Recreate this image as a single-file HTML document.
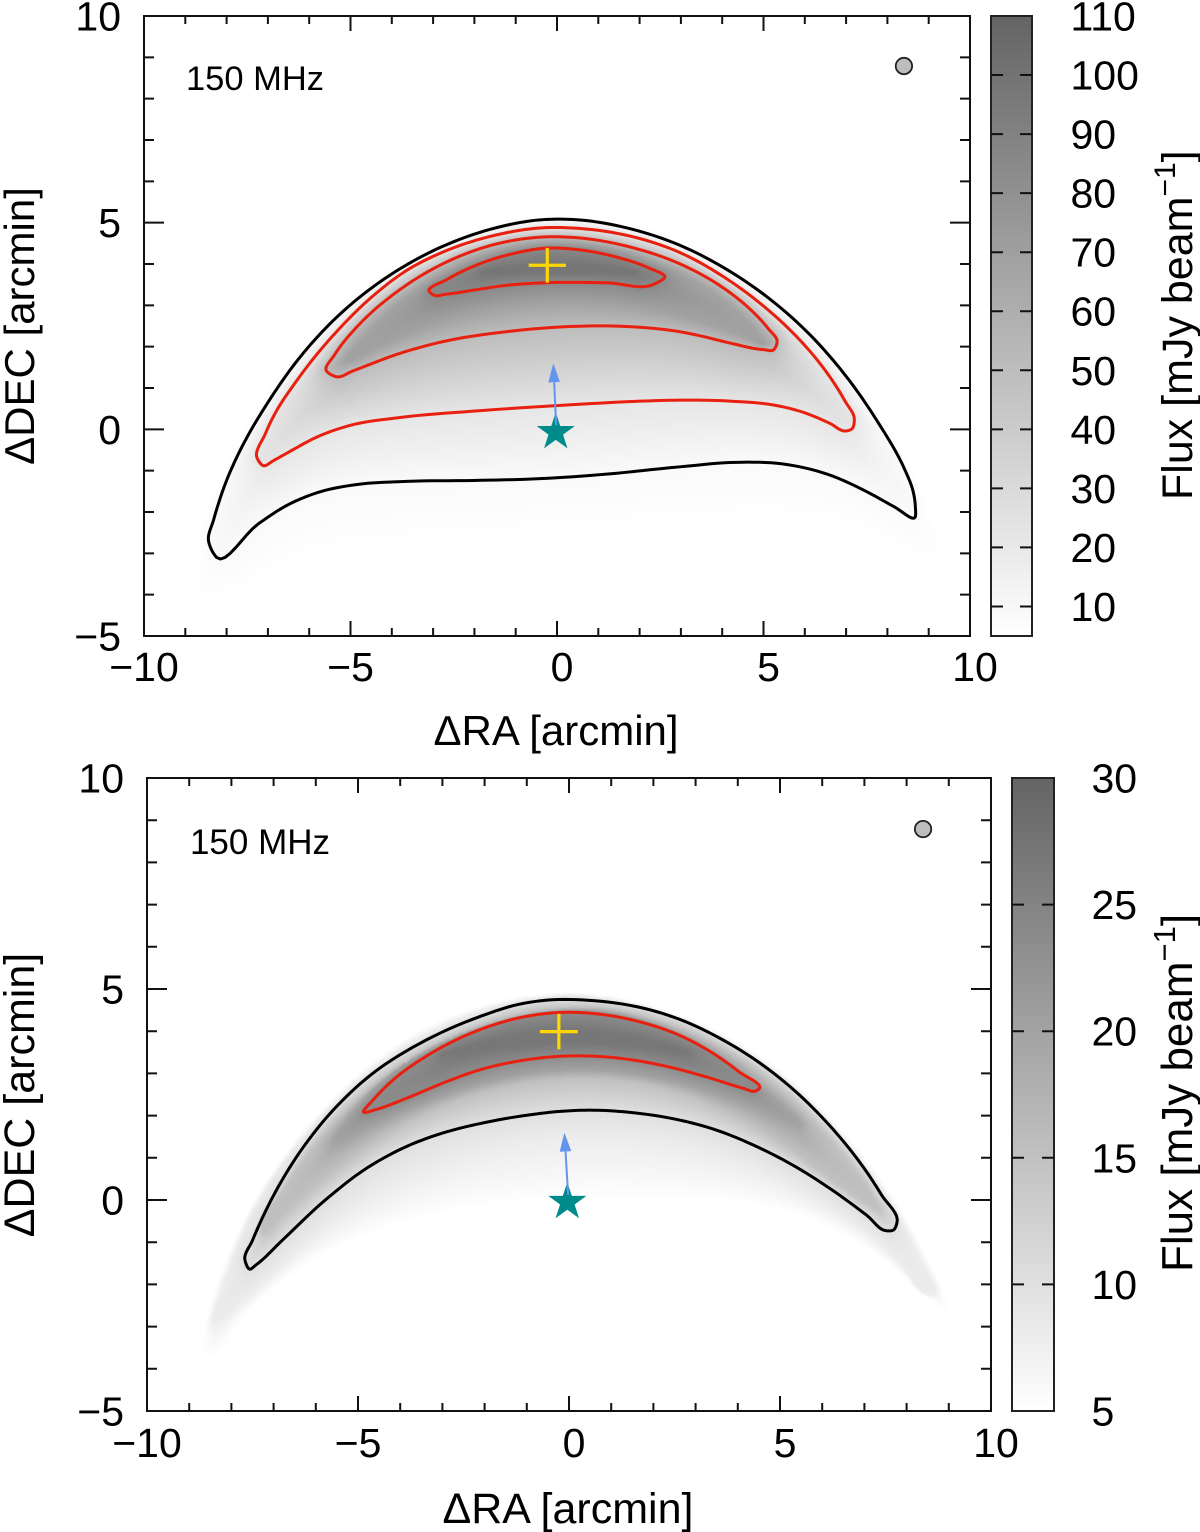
<!DOCTYPE html>
<html lang="en">
<head>
<meta charset="utf-8">
<title>150 MHz flux maps</title>
<style>
html,body{margin:0;padding:0;background:#fff;}
#stage{position:relative;width:1200px;height:1532px;overflow:hidden;background:#fff;}
#heat,#chart{position:absolute;left:0;top:0;}
text{font-family:"Liberation Sans",Arial,sans-serif;fill:#000;}
</style>
</head>
<body>
<div id="stage">
<canvas id="heat" width="1200" height="1532"></canvas>
<svg id="chart" xmlns="http://www.w3.org/2000/svg" width="1200" height="1532" viewBox="0 0 1200 1532">
  <defs>
    <clipPath id="clip-top"><rect x="144" y="16" width="826" height="620"/></clipPath>
    <clipPath id="clip-bottom"><rect x="147" y="778" width="844" height="633"/></clipPath>
  </defs>
  <g id="panel-top"></g>
  <g id="panel-bottom"></g>

  <text x="255" y="90" font-size="34.5" text-anchor="middle">150 MHz</text>
  <text x="556" y="745" font-size="42" text-anchor="middle">ΔRA [arcmin]</text>
  <text transform="translate(34,326) rotate(-90)" font-size="42" text-anchor="middle">ΔDEC [arcmin]</text>
  <text transform="translate(1192,500) rotate(-90)" font-size="43">Flux [mJy beam<tspan font-size="30" dy="-17">−1</tspan><tspan dy="17">]</tspan></text>

  <text x="260" y="854" font-size="35" text-anchor="middle">150 MHz</text>
  <text x="568" y="1523" font-size="43" text-anchor="middle">ΔRA [arcmin]</text>
  <text transform="translate(34,1095) rotate(-90)" font-size="43" text-anchor="middle">ΔDEC [arcmin]</text>
  <text transform="translate(1192,1272) rotate(-90)" font-size="44">Flux [mJy beam<tspan font-size="31" dy="-17">−1</tspan><tspan dy="17">]</tspan></text>
</svg>
</div>
<script>
// ---------- Shared axis data ----------
const xTickValues = [-10, -5, 0, 5, 10];
const xTickLabels = ["−10", "−5", "0", "5", "10"];
const yTickValues = [-5, 0, 5, 10];
const yTickLabels = ["−5", "0", "5", "10"];
const xRange = [-10, 10];
const yRange = [-5, 10];

// ---------- Top panel data ----------
const topBlackContour = [[-8.24,-3.10],[-8.44,-2.68],[-8.36,-2.19],[-8.00,-1.15],[-7.76,-0.62],[-7.03,0.75],[-6.22,1.88],[-5.25,2.93],[-4.12,3.81],[-2.83,4.50],[-1.62,4.94],[-0.41,5.14],[0.39,5.14],[1.77,4.97],[2.98,4.56],[4.19,3.90],[5.24,3.17],[6.21,2.32],[7.01,1.35],[7.82,0.23],[8.47,-0.98],[8.67,-1.47],[8.71,-1.87],[8.67,-2.13],[8.14,-1.91],[7.50,-1.47],[6.61,-0.97],[5.47,-0.73],[4.35,-0.73],[2.98,-0.91],[1.20,-1.11],[-0.41,-1.24],[-2.03,-1.25],[-3.64,-1.23],[-4.85,-1.27],[-5.74,-1.43],[-6.54,-1.75],[-7.27,-2.24]];
const topRedOuter = [[-7.11,-0.88],[-7.26,-0.70],[-7.07,-0.10],[-6.95,0.27],[-6.30,1.31],[-5.42,2.36],[-4.45,3.33],[-3.64,3.93],[-2.83,4.34],[-1.46,4.81],[-0.41,4.94],[0.63,4.94],[2.01,4.70],[2.98,4.38],[4.03,3.77],[5.00,3.05],[5.80,2.32],[6.53,1.51],[7.01,0.71],[7.20,0.23],[7.14,0.01],[6.99,-0.04],[6.61,0.15],[5.96,0.47],[5.32,0.65],[4.19,0.71],[2.98,0.73],[2.01,0.69],[0.39,0.61],[-2.03,0.45],[-3.80,0.32],[-5.01,0.18],[-5.74,-0.06],[-6.59,-0.60],[-6.85,-0.77]];
const topRedMiddle = [[-5.33,1.27],[-5.59,1.43],[-5.46,1.84],[-4.85,2.60],[-3.96,3.37],[-2.83,4.10],[-1.62,4.58],[-0.41,4.74],[0.63,4.70],[1.84,4.46],[2.98,4.11],[3.95,3.57],[4.67,2.97],[5.16,2.48],[5.33,2.12],[5.24,1.92],[5.00,1.86],[4.19,2.08],[3.46,2.28],[2.98,2.38],[2.17,2.50],[1.20,2.52],[0.31,2.51],[-1.22,2.44],[-2.83,2.16],[-3.80,1.92],[-4.93,1.39]];
const topRedInner = [[-3.09,3.33],[-2.67,3.68],[-2.03,4.02],[-0.98,4.34],[-0.25,4.42],[0.23,4.42],[1.53,4.22],[2.25,3.98],[2.61,3.68],[2.37,3.52],[1.20,3.57],[-0.41,3.57],[-1.22,3.53],[-2.03,3.37],[-2.67,3.23],[-2.99,3.25]];
const topFluxEdge = [[-8.93,-4.42],[-9.06,-3.64],[-8.64,-2.19],[-8.11,-0.98],[-7.38,0.47],[-6.51,1.87],[-5.35,3.08],[-4.09,3.98],[-2.88,4.63],[-1.62,5.06],[-0.41,5.26],[0.39,5.26],[1.82,5.09],[3.08,4.65],[4.55,3.90],[5.76,2.93],[6.97,1.68],[7.82,0.54],[8.43,-0.55],[8.86,-1.47],[9.23,-2.43],[9.39,-2.97],[9.08,-3.31],[8.31,-2.80],[7.34,-2.32],[5.88,-1.95],[3.46,-2.19],[1.04,-2.56],[-1.38,-2.68],[-3.80,-2.80],[-5.50,-2.92],[-6.71,-3.40],[-7.68,-3.89],[-8.52,-4.37]];
const topFluxRidge = [[-5.13,1.63],[-4.53,2.52],[-3.68,3.32],[-2.47,4.05],[-1.38,4.46],[-0.29,4.58],[0.80,4.58],[2.01,4.29],[3.22,3.78],[4.31,3.01],[4.96,2.35],[5.04,2.04],[4.55,2.28],[3.46,2.69],[2.25,3.01],[0.80,3.13],[-0.65,3.13],[-1.86,2.94],[-3.08,2.57],[-4.04,2.16]];
const topFluxPeak = [[-1.8,3.8],[-0.5,4.1],[1.0,4.05],[1.9,3.8],[0.5,3.85],[-0.8,3.8]];
const topFluxLevels = [5, 8.5, 22, 50, 68, 85, 98];
const topColorbarTicks = [10,20,30,40,50,60,70,80,90,100];
const topColorbarLabels = ["10","20","30","40","50","60","70","80","90","100","110"];
const topColorbarLabelValues = [10,20,30,40,50,60,70,80,90,100,110];
const topColorRange = [5, 110];
const topBeam = [8.40, 8.79];
const topStar = [-0.03, -0.07];
const topPlus = [-0.235, 3.97];
const topArrowTail = [-0.02, 0.10];
const topArrowTip = [-0.09, 1.60];

// ---------- Bottom panel data ----------
const bottomBlackContour = [[-7.56,-1.64],[-7.68,-1.42],[-7.52,-0.95],[-7.09,0.08],[-6.45,1.18],[-5.58,2.29],[-4.64,3.12],[-3.61,3.79],[-2.11,4.41],[-1.20,4.68],[-0.53,4.80],[0.58,4.80],[1.76,4.62],[2.63,4.34],[3.66,3.87],[4.61,3.24],[5.41,2.61],[6.19,1.82],[6.90,0.95],[7.45,0.16],[7.77,-0.55],[7.69,-0.71],[7.53,-0.73],[7.06,-0.36],[6.19,0.32],[5.32,0.87],[4.37,1.34],[3.42,1.74],[2.63,1.94],[1.37,2.13],[0.58,2.16],[-0.21,2.12],[-0.92,2.05],[-2.11,1.83],[-2.90,1.66],[-3.85,1.34],[-4.79,0.87],[-5.82,0.08],[-6.77,-0.95],[-7.40,-1.58]];
const bottomRedContour = [[-4.87,2.08],[-4.63,2.41],[-4.24,2.88],[-3.37,3.55],[-2.11,4.11],[-1.16,4.42],[-0.14,4.49],[0.58,4.48],[1.76,4.27],[2.63,3.99],[3.42,3.51],[4.05,3.08],[4.50,2.63],[4.41,2.58],[4.13,2.61],[3.42,2.88],[2.63,3.14],[1.37,3.40],[0.58,3.44],[-0.21,3.41],[-0.53,3.40],[-1.48,3.28],[-2.11,3.12],[-2.90,2.84],[-3.85,2.41],[-4.52,2.09]];
const bottomFluxEdge = [[-8.67,-3.72],[-8.74,-3.15],[-8.44,-1.90],[-7.73,-0.31],[-6.85,1.02],[-5.90,2.20],[-4.79,3.32],[-3.70,4.03],[-2.51,4.57],[-1.33,4.86],[-0.14,4.93],[0.57,4.93],[1.75,4.74],[3.10,4.31],[4.53,3.55],[5.55,2.77],[6.59,1.59],[7.54,0.40],[8.01,-0.47],[8.48,-1.26],[8.96,-2.30],[9.03,-2.68],[8.72,-2.54],[8.01,-1.73],[6.90,-0.95],[5.71,-0.31],[4.53,0.07],[2.16,0.07],[-1.33,0.00],[-2.89,-0.24],[-4.48,-0.55],[-6.07,-1.26],[-7.01,-1.97],[-7.87,-2.91],[-8.51,-3.72]];
const bottomFluxShoulder = [[-8.44,-2.96],[-8.22,-2.01],[-7.84,-1.07],[-7.63,-0.31],[-7.04,0.66],[-6.09,1.85],[-4.95,3.03],[-3.77,3.84],[-2.35,4.50],[-1.16,4.81],[-0.14,4.88],[0.57,4.88],[1.75,4.69],[3.10,4.24],[4.53,3.41],[5.47,2.65],[6.49,1.54],[7.49,0.28],[7.96,-0.59],[8.36,-1.47],[8.67,-2.25],[8.44,-2.25],[7.96,-1.47],[7.37,-0.90],[6.18,-0.12],[5.00,0.59],[3.58,1.18],[2.16,1.49],[0.50,1.61],[-1.16,1.49],[-2.82,1.07],[-4.24,0.47],[-5.43,-0.28],[-6.37,-1.07],[-7.20,-1.90],[-7.91,-2.61]];
const bottomFluxRidge = [[-7.32,-0.64],[-6.85,0.17],[-6.07,1.35],[-5.26,2.35],[-3.70,3.65],[-2.11,4.31],[-0.14,4.67],[0.73,4.64],[2.16,4.34],[3.34,3.86],[4.53,3.15],[5.47,2.30],[6.49,1.18],[7.30,0.07],[7.37,-0.24],[6.90,-0.07],[6.11,0.55],[5.17,1.35],[3.98,2.06],[2.56,2.77],[0.97,2.96],[-0.52,2.96],[-2.11,2.68],[-3.70,2.06],[-4.88,1.26],[-5.90,0.47],[-6.85,-0.40],[-7.25,-0.78]];
const bottomFluxCore = [[-5.59,1.35],[-5.19,2.13],[-4.67,2.73],[-3.53,3.67],[-2.11,4.27],[-0.14,4.60],[0.73,4.57],[2.16,4.27],[3.34,3.74],[4.57,2.80],[5.47,1.78],[5.00,1.90],[4.05,2.37],[2.63,2.89],[0.97,3.18],[-0.52,3.18],[-2.11,2.89],[-3.53,2.30],[-4.72,1.73]];
const bottomFluxPeak = [[-3.0,3.45],[-1.5,4.0],[0,4.15],[1.5,4.0],[2.8,3.5],[1.5,3.75],[0,3.8],[-1.5,3.7]];
const bottomFluxLevels = [5, 8, 10, 15, 20, 23.5, 27];
const bottomColorbarTicks = [10,15,20,25];
const bottomColorbarLabels = ["5","10","15","20","25","30"];
const bottomColorbarLabelValues = [5,10,15,20,25,30];
const bottomColorRange = [5, 30];
const bottomBeam = [8.39, 8.79];
const bottomStar = [-0.04, -0.05];
const bottomPlus = [-0.24, 3.99];
const bottomArrowTail = [-0.02, 0.12];
const bottomArrowTip = [-0.11, 1.60];

const SVG_NS = "http://www.w3.org/2000/svg";
const FONT = 41;

function el(parent, tag, attrs, text) {
  const n = document.createElementNS(SVG_NS, tag);
  for (const k in attrs) n.setAttribute(k, attrs[k]);
  if (text !== undefined) n.textContent = text;
  parent.appendChild(n);
  return n;
}
// fair gently curving stretches of a closed outline, leaving sharp tips untouched
function fairPoints(pts, passes) {
  let cur = pts.map(p => p.slice());
  const n = cur.length;
  for (let it = 0; it < passes; it++) {
    const next = [];
    for (let i = 0; i < n; i++) {
      const p = cur[(i - 1 + n) % n], c = cur[i], q = cur[(i + 1) % n];
      const ax = c[0] - p[0], ay = c[1] - p[1], bx = q[0] - c[0], by = q[1] - c[1];
      const d0 = Math.hypot(ax, ay) || 1e-6, d1 = Math.hypot(bx, by) || 1e-6;
      const turn = Math.abs(Math.atan2(ax * by - ay * bx, ax * bx + ay * by));
      if (turn < 0.55) {
        const f = d0 / (d0 + d1);
        const tx = p[0] + (q[0] - p[0]) * f, ty = p[1] + (q[1] - p[1]) * f;
        next.push([c[0] + (tx - c[0]) * 0.45, c[1] + (ty - c[1]) * 0.45]);
      } else {
        next.push(c.slice());
      }
    }
    cur = next;
  }
  return cur;
}
// chord-length Hermite spline through a closed point list
function smoothClosed(rawPts, sub) {
  const pts = fairPoints(rawPts, 2);
  const n = pts.length, out = [], tan = [], seg = [];
  for (let i = 0; i < n; i++) {
    const a = pts[i], b = pts[(i + 1) % n];
    seg.push(Math.hypot(b[0] - a[0], b[1] - a[1]) || 1e-6);
  }
  for (let i = 0; i < n; i++) {
    const p = pts[(i - 1 + n) % n], c = pts[i], q = pts[(i + 1) % n];
    const d0 = seg[(i - 1 + n) % n], d1 = seg[i];
    tan.push([
      ((c[0] - p[0]) / d0 * d1 + (q[0] - c[0]) / d1 * d0) / (d0 + d1),
      ((c[1] - p[1]) / d0 * d1 + (q[1] - c[1]) / d1 * d0) / (d0 + d1)
    ]);
  }
  for (let i = 0; i < n; i++) {
    const a = pts[i], b = pts[(i + 1) % n], ta = tan[i], tb = tan[(i + 1) % n], d = seg[i];
    for (let s = 0; s < sub; s++) {
      const t = s / sub, t2 = t * t, t3 = t2 * t;
      const h00 = 2 * t3 - 3 * t2 + 1, h10 = t3 - 2 * t2 + t, h01 = -2 * t3 + 3 * t2, h11 = t3 - t2;
      out.push([
        h00 * a[0] + h10 * d * ta[0] + h01 * b[0] + h11 * d * tb[0],
        h00 * a[1] + h10 * d * ta[1] + h01 * b[1] + h11 * d * tb[1]
      ]);
    }
  }
  return out;
}
function inside(poly, x, y) {
  let c = false;
  for (let i = 0, j = poly.length - 1; i < poly.length; j = i++) {
    const a = poly[i], b = poly[j];
    if ((a[1] > y) !== (b[1] > y) && x < (b[0] - a[0]) * (y - a[1]) / (b[1] - a[1]) + a[0]) c = !c;
  }
  return c;
}
function dist(poly, x, y) {
  let best = Infinity;
  for (let i = 0, j = poly.length - 1; i < poly.length; j = i++) {
    const a = poly[j], b = poly[i];
    const dx = b[0] - a[0], dy = b[1] - a[1];
    const l = dx * dx + dy * dy;
    let t = l ? ((x - a[0]) * dx + (y - a[1]) * dy) / l : 0;
    t = t < 0 ? 0 : t > 1 ? 1 : t;
    const ex = a[0] + t * dx - x, ey = a[1] + t * dy - y;
    const d = ex * ex + ey * ey;
    if (d < best) best = d;
  }
  return Math.sqrt(best);
}

function drawHeat(ctx, box, sx, sy, colorOf, polys, levels) {
  const step = 3;
  const px = polys.map(p => smoothClosed(p, 3).map(q => [sx(q[0]), sy(q[1])]));
  const w = Math.ceil((box.right - box.left) / step), h = Math.ceil((box.bottom - box.top) / step);
  const off = document.createElement("canvas");
  off.width = w; off.height = h;
  const octx = off.getContext("2d");
  const img = octx.createImageData(w, h);
  const outer = px[0];
  let x0 = Infinity, x1 = -Infinity, y0 = Infinity, y1 = -Infinity;
  outer.forEach(q => { x0 = Math.min(x0, q[0]); x1 = Math.max(x1, q[0]); y0 = Math.min(y0, q[1]); y1 = Math.max(y1, q[1]); });
  for (let j = 0; j < h; j++) {
    for (let i = 0; i < w; i++) {
      const X = box.left + (i + 0.5) * step, Y = box.top + (j + 0.5) * step;
      let g = 255;
      if (X >= x0 && X <= x1 && Y >= y0 && Y <= y1) {
        let k = -1;
        for (let m = px.length - 1; m >= 0; m--) { if (inside(px[m], X, Y)) { k = m; break; } }
        if (k >= 0) {
          let v = levels[k];
          if (k < px.length - 1) {
            const d0 = dist(px[k], X, Y), d1 = dist(px[k + 1], X, Y);
            v = levels[k] + (levels[k + 1] - levels[k]) * d0 / (d0 + d1);
          }
          g = colorOf(v);
        }
      }
      const o = (j * w + i) * 4;
      img.data[o] = img.data[o + 1] = img.data[o + 2] = g;
      img.data[o + 3] = 255;
    }
  }
  octx.putImageData(img, 0, 0);
  ctx.imageSmoothingEnabled = true;
  ctx.imageSmoothingQuality = "high";
  ctx.drawImage(off, box.left, box.top, w * step, h * step);
}

function contourPath(pts, sx, sy) {
  return smoothClosed(pts, 8).map((q, i) => (i ? "L" : "M") + sx(q[0]).toFixed(2) + " " + sy(q[1]).toFixed(2)).join("") + "Z";
}
function starPoints(cx, cy, R) {
  const r = R * 0.382, out = [];
  for (let i = 0; i < 10; i++) {
    const a = -Math.PI / 2 + i * Math.PI / 5, q = i % 2 ? r : R;
    out.push((cx + q * Math.cos(a)).toFixed(2) + "," + (cy + q * Math.sin(a)).toFixed(2));
  }
  return out.join(" ");
}

function drawPanel(g, cfg) {
  const b = cfg.box, bar = cfg.bar;
  const sx = v => b.left + (v - xRange[0]) / (xRange[1] - xRange[0]) * (b.right - b.left);
  const sy = v => b.bottom - (v - yRange[0]) / (yRange[1] - yRange[0]) * (b.bottom - b.top);
  const cy = v => bar.bottom - (v - cfg.colorRange[0]) / (cfg.colorRange[1] - cfg.colorRange[0]) * (bar.bottom - bar.top);
  const colorOf = v => Math.round(255 - 155 * (v - cfg.colorRange[0]) / (cfg.colorRange[1] - cfg.colorRange[0]));

  drawHeat(document.getElementById("heat").getContext("2d"), b, sx, sy, colorOf, cfg.fluxPolys, cfg.fluxLevels);

  // contours
  const cg = el(g, "g", { "clip-path": "url(#" + cfg.clip + ")" });
  
  
  cfg.contours.forEach(function (c) {
    const p = el(cg, "path", { d: contourPath(c.points, sx, sy), fill: "none", stroke: c.color, "stroke-width": 3, "stroke-linejoin": "round" });
    
    
  });

  // plus marker
  const plus = el(g, "path", {
    d: "M" + sx(cfg.plus[0] - 0.45) + " " + sy(cfg.plus[1]) + "H" + sx(cfg.plus[0] + 0.45) + "M" + sx(cfg.plus[0]) + " " + sy(cfg.plus[1] - 0.42) + "V" + sy(cfg.plus[1] + 0.42),
    stroke: "#ffd700", "stroke-width": 3.2, fill: "none"
  });
  
  

  // star
  const star = el(g, "polygon", { points: starPoints(sx(cfg.star[0]), sy(cfg.star[1]), 20), fill: "#008b8b" });
  
  

  // arrow
  const ax = sx(cfg.arrowTail[0]), ay = sy(cfg.arrowTail[1]), tx = sx(cfg.arrowTip[0]), ty = sy(cfg.arrowTip[1]);
  const len = Math.hypot(tx - ax, ty - ay), ux = (tx - ax) / len, uy = (ty - ay) / len;
  const hx = tx - ux * 19, hy = ty - uy * 19;
  const shaft = el(g, "line", { x1: ax, y1: ay, x2: hx, y2: hy, stroke: "#6495ed", "stroke-width": 2 });
  
  
  const head = el(g, "polygon", { points: [tx + "," + ty, (hx - uy * 5.8) + "," + (hy + ux * 5.8), (hx + uy * 5.8) + "," + (hy - ux * 5.8)].join(" "), fill: "#6495ed" });
  
  

  // beam
  const beam = el(g, "circle", { cx: sx(cfg.beam[0]), cy: sy(cfg.beam[1]), r: 8.2, fill: "#bdbdbd", stroke: "#222", "stroke-width": 1.8 });
  
  

  // frame
  const frame = el(g, "rect", { x: b.left, y: b.top, width: b.right - b.left, height: b.bottom - b.top, fill: "none", stroke: "#111", "stroke-width": 2 });
  
  

  // ticks
  const tickGroup = el(g, "g", { stroke: "#111", "stroke-width": 2, fill: "none" });
  
  
  let d = "";
  for (let v = xRange[0]; v <= xRange[1]; v += 1) {
    const L = v % 5 === 0 ? 15 : 8;
    d += "M" + sx(v) + " " + b.bottom + "v" + (-L) + "M" + sx(v) + " " + b.top + "v" + L;
  }
  for (let v = yRange[0]; v <= yRange[1]; v += 1) {
    const L = v % 5 === 0 ? 20 : 10;
    d += "M" + b.left + " " + sy(v) + "h" + L + "M" + b.right + " " + sy(v) + "h" + (-L);
  }
  el(tickGroup, "path", { d: d });

  // tick labels
  xTickValues.forEach(function (v, i) {
    const off = v >= 0 ? 5 : 0;
    const t = el(g, "text", { x: sx(v) + off, y: b.bottom + cfg.xLabelDy, "font-size": FONT, "text-anchor": "middle" }, xTickLabels[i]);
    
    
  });
  yTickValues.forEach(function (v, i) {
    const t = el(g, "text", { x: b.left - cfg.yLabelGap, y: sy(v) + 14.5, "font-size": FONT, "text-anchor": "end" }, yTickLabels[i]);
    
    
  });

  // colorbar
  const gid = cfg.clip + "-grad";
  let defs = document.querySelector("#chart defs");
  const grad = el(defs, "linearGradient", { id: gid, x1: 0, y1: 1, x2: 0, y2: 0 });
  [0, 0.25, 0.5, 0.75, 1].forEach(function (f) {
    const v = cfg.colorRange[0] + f * (cfg.colorRange[1] - cfg.colorRange[0]), c = colorOf(v);
    el(grad, "stop", { offset: f, "stop-color": "rgb(" + c + "," + c + "," + c + ")" });
  });
  const cbar = el(g, "rect", { x: bar.left, y: bar.top, width: bar.right - bar.left, height: bar.bottom - bar.top, fill: "url(#" + gid + ")", stroke: "#222", "stroke-width": 2 });
  
  
  cfg.barTicks.forEach(function (v) {
    const t = el(g, "path", { d: "M" + bar.left + " " + cy(v) + "h12M" + bar.right + " " + cy(v) + "h-12", stroke: "#111", "stroke-width": 2, fill: "none" });
    
    
  });
  cfg.barLabelValues.forEach(function (v, i) {
    const t = el(g, "text", { x: bar.labelX, y: cy(v) + 14.5, "font-size": FONT }, cfg.barLabels[i]);
    
    
  });
}

drawPanel(document.getElementById("panel-top"), {
  clip: "clip-top",
  box: { left: 144, right: 970, top: 16, bottom: 636 },
  bar: { left: 991, right: 1032, top: 16, bottom: 636, labelX: 1070.5 },
  xLabelDy: 45, yLabelGap: 23,
  colorRange: topColorRange,
  barTicks: topColorbarTicks, barLabels: topColorbarLabels, barLabelValues: topColorbarLabelValues,
  fluxPolys: [topFluxEdge, topBlackContour, topRedOuter, topRedMiddle, topFluxRidge, topRedInner, topFluxPeak],
  fluxLevels: topFluxLevels,
  contours: [
    { name: "black-outer-contour", points: topBlackContour, color: "#000" },
    { name: "red-outer-contour", points: topRedOuter, color: "#e8200f" },
    { name: "red-middle-contour", points: topRedMiddle, color: "#e8200f" },
    { name: "red-inner-contour", points: topRedInner, color: "#e8200f" }
  ],
  beam: topBeam, star: topStar, plus: topPlus, arrowTail: topArrowTail, arrowTip: topArrowTip
});

drawPanel(document.getElementById("panel-bottom"), {
  clip: "clip-bottom",
  box: { left: 147, right: 991, top: 778, bottom: 1411 },
  bar: { left: 1012, right: 1054, top: 778, bottom: 1411, labelX: 1091.5 },
  xLabelDy: 46, yLabelGap: 23,
  colorRange: bottomColorRange,
  barTicks: bottomColorbarTicks, barLabels: bottomColorbarLabels, barLabelValues: bottomColorbarLabelValues,
  fluxPolys: [bottomFluxEdge, bottomFluxShoulder, bottomBlackContour, bottomFluxRidge, bottomFluxCore, bottomRedContour, bottomFluxPeak],
  fluxLevels: bottomFluxLevels,
  contours: [
    { name: "black-outer-contour", points: bottomBlackContour, color: "#000" },
    { name: "red-contour", points: bottomRedContour, color: "#e8200f" }
  ],
  beam: bottomBeam, star: bottomStar, plus: bottomPlus, arrowTail: bottomArrowTail, arrowTip: bottomArrowTip
});
</script>
</body>
</html>
